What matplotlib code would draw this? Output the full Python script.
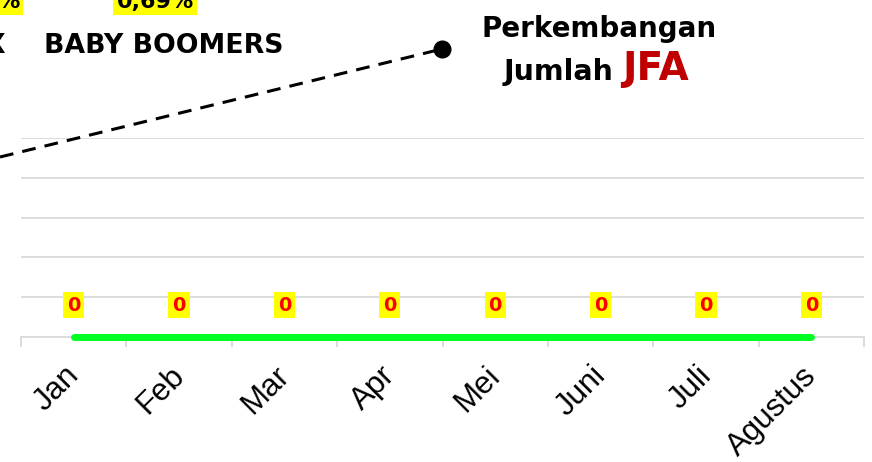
import matplotlib.pyplot as plt
from matplotlib.lines import Line2D
from matplotlib.transforms import ScaledTranslation
import numpy as np

bulan = ["Jan", "Feb", "Mar", "Apr", "Mei", "Juni", "Juli", "Agustus"]
jumlah_jfa = [0, 0, 0, 0, 0, 0, 0, 0]
grid_y = [1, 2, 3, 4, 5]

fig = plt.figure(figsize=(8.72, 4.62), dpi=100)
ax = fig.add_axes([21/872, 1-337/462, 843/872, 199/462])

x = np.arange(len(bulan))
ax.plot(x, jumlah_jfa, color="#00ff22", lw=5, solid_capstyle="round",
        zorder=3, clip_on=False)
for xi, v in zip(x, jumlah_jfa):
    ax.annotate(str(v), (xi, v), xytext=(0, 23), textcoords="offset points",
                ha="center", va="center", fontsize=14, fontweight="bold",
                color="#ff0000", family="DejaVu Sans",
                bbox=dict(boxstyle="square,pad=0.2", fc="#ffff00", ec="none"))

ax.set_xlim(-0.5, len(bulan) - 0.5)
ax.set_ylim(0, 5)
ax.set_yticks(grid_y)
ax.tick_params(axis="y", length=0, labelleft=False)
ax.grid(axis="y", color="#d9d9d9", lw=1.3)
ax.set_axisbelow(True)
for s in ["top", "right", "left"]:
    ax.spines[s].set_visible(False)
ax.spines["bottom"].set_color("#d9d9d9")
ax.spines["bottom"].set_linewidth(1.3)

ax.set_xticks(x)
ax.set_xticklabels(bulan, rotation=45, ha="right", va="top",
                   rotation_mode="anchor", fontsize=22.5, family="Liberation Sans")
ax.tick_params(axis="x", which="major", length=0, pad=17)
geser = ScaledTranslation(-10/100, 0, fig.dpi_scale_trans)
for lbl in ax.get_xticklabels():
    lbl.set_transform(lbl.get_transform() + geser)
ax.set_xticks(np.arange(len(bulan) + 1) - 0.5, minor=True)
ax.tick_params(axis="x", which="minor", length=7, color="#d9d9d9", width=1.3)

# keterangan atas
judul = dict(fontweight="bold", family="DejaVu Sans", va="baseline")
fig.text(599/872, 1-37/462, "Perkembangan", ha="center", fontsize=20, **judul)
fig.text(613/872, 1-80/462, "Jumlah", ha="right", fontsize=20.5, **judul)
fig.text(622/872, 1-80/462, "JFA", ha="left", fontsize=28, color="#c00000", **judul)

fig.text(164/872, 1-53/462, "BABY BOOMERS", ha="center", fontsize=19.3, **judul)
fig.text(5/872, 1-53/462, "X", ha="right", fontsize=19.3, **judul)
fig.text(155/872, 1-8/462, "0,69%", ha="center", fontsize=16, **judul,
         bbox=dict(boxstyle="square,pad=0.15", fc="#ffff00", ec="none"))
fig.text(20/872, 1-8/462, "%", ha="right", fontsize=16, **judul,
         bbox=dict(boxstyle="square,pad=0.15", fc="#ffff00", ec="none"))

fig.add_artist(Line2D([0, 442/872], [1-157/462, 1-49/462], color="black",
                      lw=2.2, ls=(0, (4.5, 3)), transform=fig.transFigure))
fig.add_artist(Line2D([442/872], [1-49/462], marker="o", ms=12,
                      color="black", transform=fig.transFigure))

fig.savefig("out.png", dpi=100)
